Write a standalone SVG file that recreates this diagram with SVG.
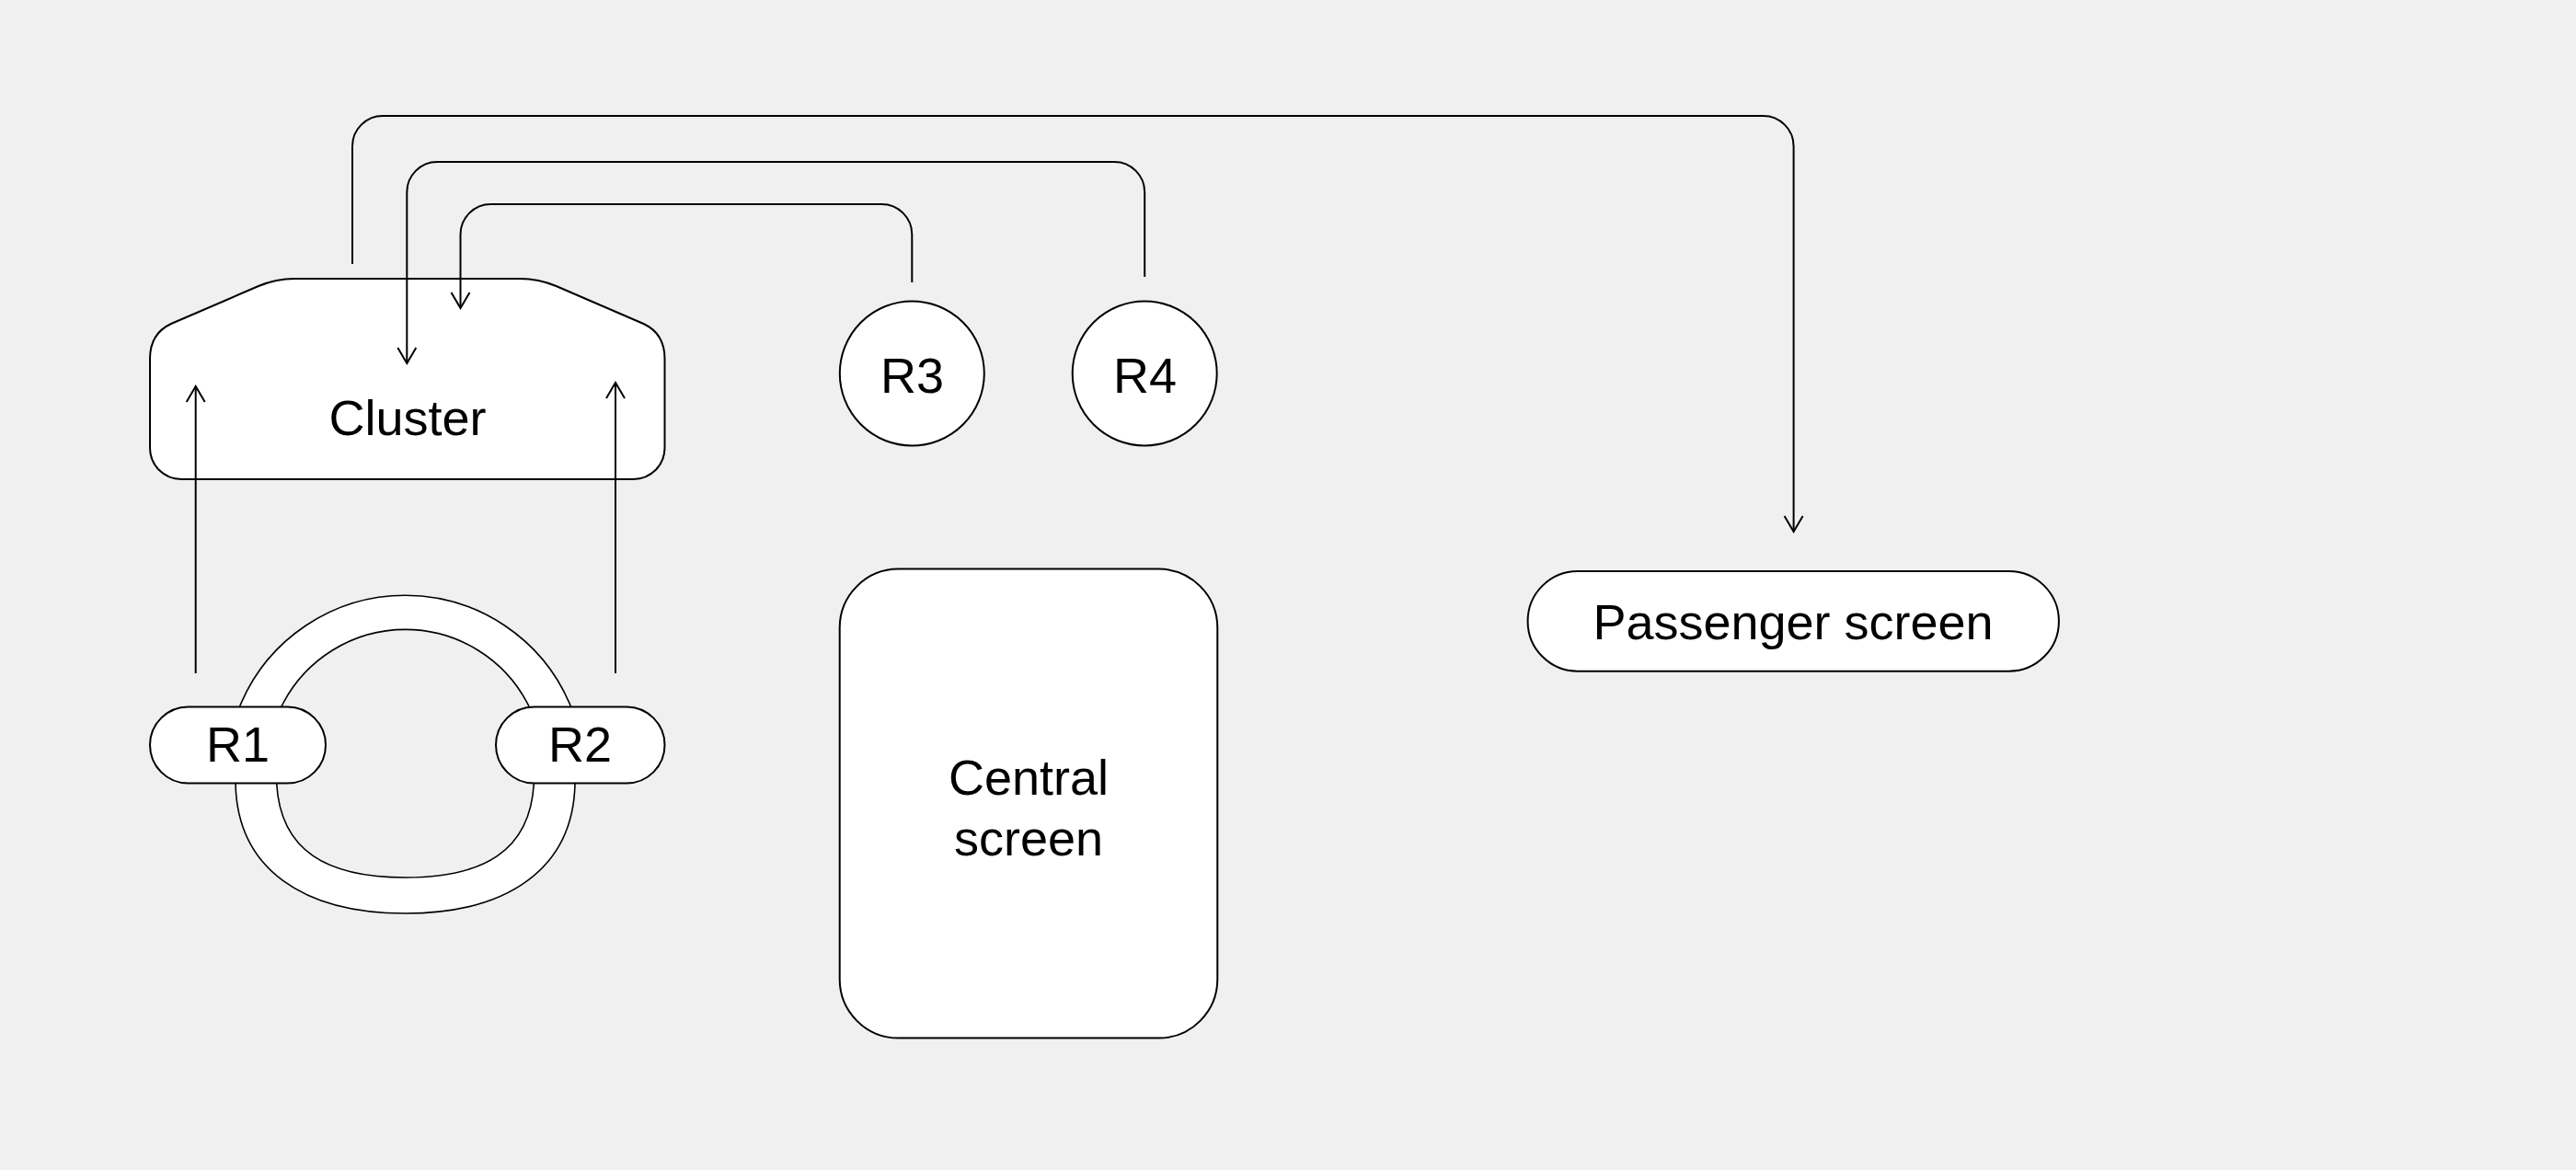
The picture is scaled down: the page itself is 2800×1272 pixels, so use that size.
<svg xmlns="http://www.w3.org/2000/svg" width="2800" height="1272" viewBox="0 0 2800 1272">
  <style>
    .node { fill: #ffffff; stroke: #000000; stroke-width: 2; }
    .ring { fill: #ffffff; stroke: #000000; stroke-width: 1.6; fill-rule: evenodd; }
    .label { font-family: "Liberation Sans", Arial, sans-serif; font-size: 54px; fill: #000000; text-anchor: middle; }
    .edge { fill: none; stroke: #000000; stroke-width: 2; marker-end: url(#arrow); }
  </style>
  <defs>
    <marker id="arrow" viewBox="-20 -12 24 24" refX="0" refY="0" markerWidth="24" markerHeight="24" markerUnits="userSpaceOnUse" orient="auto" overflow="visible">
      <path d="M -17,-10 L 0,0 L -17,10" fill="none" stroke="#000000" stroke-width="2"/>
    </marker>
  </defs>
  <rect x="0" y="0" width="2800" height="1272" fill="#f0f0f0"/>

  <g id="ring">
    <path class="ring" d="M 260.6,768 A 194.4 194.4 0 0 1 620.4,768 L 625,852 C 623,945 551,993 440.5,993 C 330,993 258,945 256,852 Z M 306,768 A 150 150 0 0 1 575,768 L 580.3,852 C 576,925 526,954 440.5,954 C 355,954 305,925 300.7,852 Z"/>
  </g>

  <g id="cluster">
    <path class="node" d="M 320,303 H 565.5 C 580.5,303 592.5,306 604.5,311 L 699.5,352 C 714.5,359 722.5,372 722.5,390 V 487 A 34 34 0 0 1 688.5,521 H 197 A 34 34 0 0 1 163,487 V 390 C 163,372 171,359 186,352 L 281,311 C 293,306 305,303 320,303 Z"/>
    <text class="label" x="443" y="473">Cluster</text>
  </g>

  <g id="r1">
    <rect class="node" x="163" y="768.5" width="191" height="83" rx="41.5" ry="41.5"/>
    <text class="label" x="258.5" y="828">R1</text>
  </g>

  <g id="r2">
    <rect class="node" x="539" y="768.5" width="183.5" height="83" rx="41.5" ry="41.5"/>
    <text class="label" x="630.5" y="828">R2</text>
  </g>

  <g id="r3">
    <circle class="node" cx="991.3" cy="406" r="78.5"/>
    <text class="label" x="991.5" y="427">R3</text>
  </g>

  <g id="r4">
    <circle class="node" cx="1244.2" cy="406" r="78.5"/>
    <text class="label" x="1244.5" y="427">R4</text>
  </g>

  <g id="central-screen">
    <rect class="node" x="912.7" y="618.6" width="410.6" height="510" rx="64" ry="64"/>
    <text class="label" x="1118" y="864">Central</text>
    <text class="label" x="1118" y="930">screen</text>
  </g>

  <g id="passenger-screen">
    <rect class="node" x="1660.6" y="621" width="577.3" height="108.7" rx="54.3" ry="54.3"/>
    <text class="label" x="1949" y="695">Passenger screen</text>
  </g>

  <g id="connectors">
    <path class="edge" d="M 383,287 V 159 A 33 33 0 0 1 416,126 H 1916.6 A 33 33 0 0 1 1949.6,159 V 578"/>
    <path class="edge" d="M 1244.2,301 V 209 A 33 33 0 0 0 1211.2,176 H 475.3 A 33 33 0 0 0 442.3,209 V 395"/>
    <path class="edge" d="M 991.3,307 V 255 A 33 33 0 0 0 958.3,222 H 533.5 A 33 33 0 0 0 500.5,255 V 335"/>
    <path class="edge" d="M 212.7,732 V 420"/>
    <path class="edge" d="M 669,732 V 416"/>
  </g>
</svg>
